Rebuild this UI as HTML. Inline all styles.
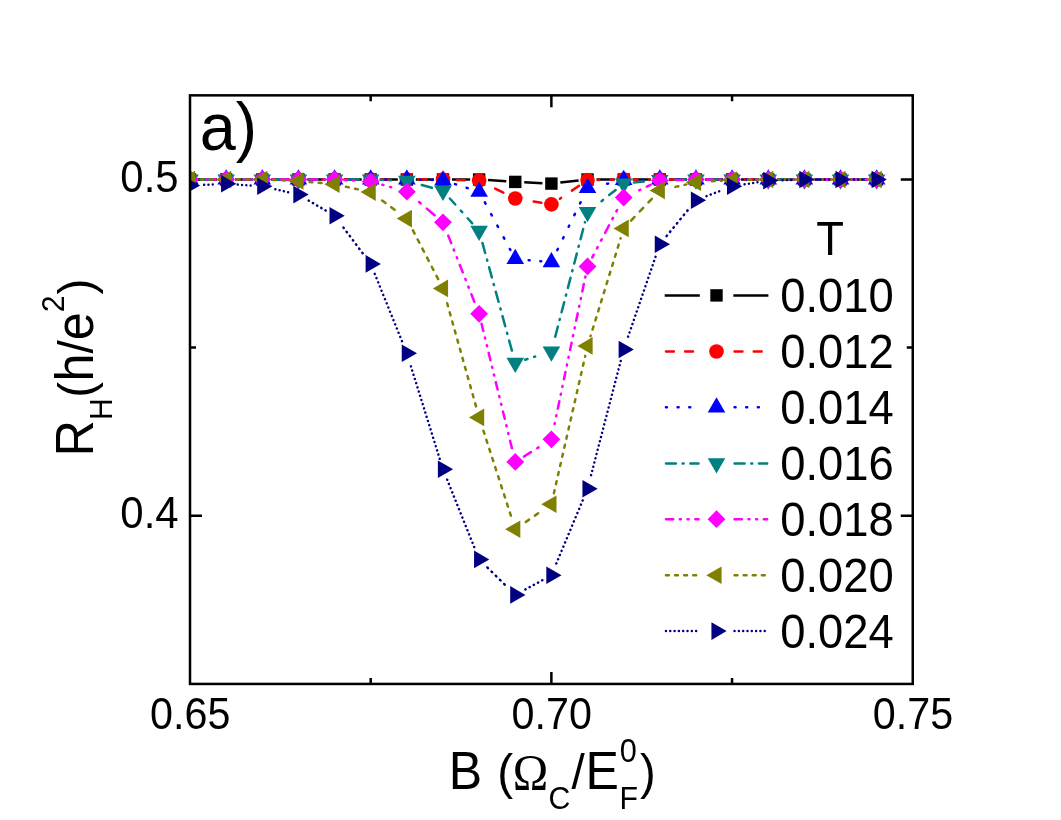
<!DOCTYPE html>
<html><head><meta charset="utf-8"><title>chart</title>
<style>
html,body{margin:0;padding:0;background:#fff;}
body{width:1061px;height:820px;overflow:hidden;}
svg{display:block;will-change:transform;transform:translateZ(0);}
text{font-family:"Liberation Sans",sans-serif;fill:#000;}
.ser{font-family:"Liberation Serif",serif;}
</style></head><body>
<svg width="1061" height="820" viewBox="0 0 1061 820">
<defs><clipPath id="pc"><rect x="190" y="95.35" width="722.75" height="588.6"/></clipPath></defs>
<rect width="1061" height="820" fill="#fff"/>
<path d="M551.37 683.95 v-12 M551.37 95.35 v12 M370.69 683.95 v-6 M370.69 95.35 v6 M732.06 683.95 v-6 M732.06 95.35 v6 M190 179.55 h12 M912.75 179.55 h-12 M190 515.70 h12 M912.75 515.70 h-12 M190 347.62 h6 M912.75 347.62 h-6" stroke="#000" stroke-width="2.5" fill="none"/>
<g clip-path="url(#pc)">
<g stroke="#000000" stroke-width="2.5" fill="none">
<line x1="199.00" y1="179.50" x2="217.14" y2="179.50"/>
<line x1="235.14" y1="179.50" x2="253.28" y2="179.50"/>
<line x1="271.28" y1="179.50" x2="289.42" y2="179.50"/>
<line x1="307.42" y1="179.50" x2="325.56" y2="179.50"/>
<line x1="343.56" y1="179.50" x2="361.70" y2="179.50"/>
<line x1="379.70" y1="179.50" x2="397.84" y2="179.50"/>
<line x1="415.84" y1="179.50" x2="433.98" y2="179.50"/>
<line x1="451.98" y1="179.50" x2="470.12" y2="179.50"/>
<line x1="488.10" y1="180.10" x2="506.28" y2="181.30"/>
<line x1="524.25" y1="182.32" x2="542.41" y2="183.18"/>
<line x1="560.34" y1="182.59" x2="578.60" y2="180.51"/>
<line x1="596.54" y1="179.50" x2="614.68" y2="179.50"/>
<line x1="632.68" y1="179.50" x2="650.82" y2="179.50"/>
<line x1="668.82" y1="179.50" x2="686.96" y2="179.50"/>
<line x1="704.96" y1="179.50" x2="723.10" y2="179.50"/>
<line x1="741.10" y1="179.50" x2="759.24" y2="179.50"/>
<line x1="777.24" y1="179.50" x2="795.38" y2="179.50"/>
<line x1="813.38" y1="179.50" x2="831.52" y2="179.50"/>
<line x1="849.52" y1="179.50" x2="867.66" y2="179.50"/>
</g>
<g>
<rect x="183.80" y="173.30" width="12.4" height="12.4" fill="#000000"/>
<rect x="219.94" y="173.30" width="12.4" height="12.4" fill="#000000"/>
<rect x="256.08" y="173.30" width="12.4" height="12.4" fill="#000000"/>
<rect x="292.22" y="173.30" width="12.4" height="12.4" fill="#000000"/>
<rect x="328.36" y="173.30" width="12.4" height="12.4" fill="#000000"/>
<rect x="364.50" y="173.30" width="12.4" height="12.4" fill="#000000"/>
<rect x="400.64" y="173.30" width="12.4" height="12.4" fill="#000000"/>
<rect x="436.78" y="173.30" width="12.4" height="12.4" fill="#000000"/>
<rect x="472.92" y="173.30" width="12.4" height="12.4" fill="#000000"/>
<rect x="509.06" y="175.70" width="12.4" height="12.4" fill="#000000"/>
<rect x="545.20" y="177.40" width="12.4" height="12.4" fill="#000000"/>
<rect x="581.34" y="173.30" width="12.4" height="12.4" fill="#000000"/>
<rect x="617.48" y="173.30" width="12.4" height="12.4" fill="#000000"/>
<rect x="653.62" y="173.30" width="12.4" height="12.4" fill="#000000"/>
<rect x="689.76" y="173.30" width="12.4" height="12.4" fill="#000000"/>
<rect x="725.90" y="173.30" width="12.4" height="12.4" fill="#000000"/>
<rect x="762.04" y="173.30" width="12.4" height="12.4" fill="#000000"/>
<rect x="798.18" y="173.30" width="12.4" height="12.4" fill="#000000"/>
<rect x="834.32" y="173.30" width="12.4" height="12.4" fill="#000000"/>
<rect x="870.46" y="173.30" width="12.4" height="12.4" fill="#000000"/>
</g>
<g stroke="#ff0000" stroke-width="2.5" fill="none" stroke-linecap="round">
<line x1="200.25" y1="179.50" x2="215.89" y2="179.50" stroke-dasharray="7.90 11.30" stroke-dashoffset="12.14"/>
<line x1="236.39" y1="179.50" x2="252.03" y2="179.50" stroke-dasharray="7.90 11.30" stroke-dashoffset="9.88"/>
<line x1="272.53" y1="179.50" x2="288.17" y2="179.50" stroke-dasharray="7.90 11.30" stroke-dashoffset="26.82"/>
<line x1="308.67" y1="179.50" x2="324.31" y2="179.50" stroke-dasharray="7.90 11.30" stroke-dashoffset="24.56"/>
<line x1="344.81" y1="179.50" x2="360.45" y2="179.50" stroke-dasharray="7.90 11.30" stroke-dashoffset="22.30"/>
<line x1="380.95" y1="179.50" x2="396.59" y2="179.50" stroke-dasharray="7.90 11.30" stroke-dashoffset="20.04"/>
<line x1="417.09" y1="179.50" x2="432.73" y2="179.50" stroke-dasharray="7.90 11.30" stroke-dashoffset="17.78"/>
<line x1="453.23" y1="179.81" x2="468.87" y2="180.29" stroke-dasharray="7.90 11.30" stroke-dashoffset="15.52"/>
<line x1="488.31" y1="185.15" x2="506.07" y2="193.95" stroke-dasharray="9.11 12.32" stroke-dashoffset="13.75"/>
<line x1="525.38" y1="200.15" x2="541.28" y2="202.75" stroke-dasharray="8.04 11.42" stroke-dashoffset="11.03"/>
<line x1="559.91" y1="198.68" x2="579.03" y2="185.82" stroke-dasharray="10.03 13.10" stroke-dashoffset="31.82"/>
<line x1="597.79" y1="179.93" x2="613.43" y2="179.67" stroke-dasharray="7.90 11.30" stroke-dashoffset="25.68"/>
<line x1="633.93" y1="179.50" x2="649.57" y2="179.50" stroke-dasharray="7.90 11.30" stroke-dashoffset="23.42"/>
<line x1="670.07" y1="179.50" x2="685.71" y2="179.50" stroke-dasharray="7.90 11.30" stroke-dashoffset="21.16"/>
<line x1="706.21" y1="179.50" x2="721.85" y2="179.50" stroke-dasharray="7.90 11.30" stroke-dashoffset="18.90"/>
<line x1="742.35" y1="179.50" x2="757.99" y2="179.50" stroke-dasharray="7.90 11.30" stroke-dashoffset="16.64"/>
<line x1="778.49" y1="179.50" x2="794.13" y2="179.50" stroke-dasharray="7.90 11.30" stroke-dashoffset="14.38"/>
<line x1="814.63" y1="179.50" x2="830.27" y2="179.50" stroke-dasharray="7.90 11.30" stroke-dashoffset="12.12"/>
<line x1="850.77" y1="179.50" x2="866.41" y2="179.50" stroke-dasharray="7.90 11.30" stroke-dashoffset="9.86"/>
</g>
<g>
<circle cx="190.00" cy="179.50" r="7.3" fill="#ff0000"/>
<circle cx="226.14" cy="179.50" r="7.3" fill="#ff0000"/>
<circle cx="262.28" cy="179.50" r="7.3" fill="#ff0000"/>
<circle cx="298.42" cy="179.50" r="7.3" fill="#ff0000"/>
<circle cx="334.56" cy="179.50" r="7.3" fill="#ff0000"/>
<circle cx="370.70" cy="179.50" r="7.3" fill="#ff0000"/>
<circle cx="406.84" cy="179.50" r="7.3" fill="#ff0000"/>
<circle cx="442.98" cy="179.50" r="7.3" fill="#ff0000"/>
<circle cx="479.12" cy="180.60" r="7.3" fill="#ff0000"/>
<circle cx="515.26" cy="198.50" r="7.3" fill="#ff0000"/>
<circle cx="551.40" cy="204.40" r="7.3" fill="#ff0000"/>
<circle cx="587.54" cy="180.10" r="7.3" fill="#ff0000"/>
<circle cx="623.68" cy="179.50" r="7.3" fill="#ff0000"/>
<circle cx="659.82" cy="179.50" r="7.3" fill="#ff0000"/>
<circle cx="695.96" cy="179.50" r="7.3" fill="#ff0000"/>
<circle cx="732.10" cy="179.50" r="7.3" fill="#ff0000"/>
<circle cx="768.24" cy="179.50" r="7.3" fill="#ff0000"/>
<circle cx="804.38" cy="179.50" r="7.3" fill="#ff0000"/>
<circle cx="840.52" cy="179.50" r="7.3" fill="#ff0000"/>
<circle cx="876.66" cy="179.50" r="7.3" fill="#ff0000"/>
</g>
<g stroke="#0000ff" stroke-width="2.5" fill="none" stroke-linecap="round">
<line x1="200.25" y1="179.50" x2="215.89" y2="179.50" stroke-dasharray="1.00 10.65" stroke-dashoffset="13.20"/>
<line x1="236.39" y1="179.50" x2="252.03" y2="179.50" stroke-dasharray="1.00 10.65" stroke-dashoffset="14.39"/>
<line x1="272.53" y1="179.50" x2="288.17" y2="179.50" stroke-dasharray="1.00 10.65" stroke-dashoffset="15.58"/>
<line x1="308.67" y1="179.50" x2="324.31" y2="179.50" stroke-dasharray="1.00 10.65" stroke-dashoffset="16.77"/>
<line x1="344.81" y1="179.50" x2="360.45" y2="179.50" stroke-dasharray="1.00 10.65" stroke-dashoffset="17.96"/>
<line x1="380.95" y1="179.50" x2="396.59" y2="179.50" stroke-dasharray="1.00 10.65" stroke-dashoffset="19.15"/>
<line x1="417.09" y1="179.73" x2="432.73" y2="180.07" stroke-dasharray="1.00 10.65" stroke-dashoffset="20.34"/>
<line x1="452.76" y1="183.38" x2="469.34" y2="188.62" stroke-dasharray="1.17 11.05" stroke-dashoffset="9.92"/>
<line x1="483.97" y1="200.73" x2="510.41" y2="249.97" stroke-dasharray="1.47 11.75" stroke-dashoffset="11.35"/>
<line x1="525.47" y1="259.90" x2="541.19" y2="261.30" stroke-dasharray="1.01 10.68" stroke-dashoffset="20.16"/>
<line x1="555.89" y1="252.98" x2="583.05" y2="197.22" stroke-dasharray="1.39 11.57" stroke-dashoffset="9.73"/>
<line x1="597.55" y1="185.78" x2="613.67" y2="182.22" stroke-dasharray="1.08 10.85" stroke-dashoffset="14.08"/>
<line x1="633.93" y1="179.86" x2="649.57" y2="179.64" stroke-dasharray="1.00 10.65" stroke-dashoffset="15.15"/>
<line x1="670.07" y1="179.50" x2="685.71" y2="179.50" stroke-dasharray="1.00 10.65" stroke-dashoffset="16.34"/>
<line x1="706.21" y1="179.50" x2="721.85" y2="179.50" stroke-dasharray="1.00 10.65" stroke-dashoffset="17.53"/>
<line x1="742.35" y1="179.50" x2="757.99" y2="179.50" stroke-dasharray="1.00 10.65" stroke-dashoffset="18.72"/>
<line x1="778.49" y1="179.50" x2="794.13" y2="179.50" stroke-dasharray="1.00 10.65" stroke-dashoffset="19.91"/>
<line x1="814.63" y1="179.50" x2="830.27" y2="179.50" stroke-dasharray="1.00 10.65" stroke-dashoffset="9.45"/>
<line x1="850.77" y1="179.50" x2="866.41" y2="179.50" stroke-dasharray="1.00 10.65" stroke-dashoffset="10.64"/>
</g>
<g>
<polygon points="190.00,169.34 181.20,184.58 198.80,184.58" fill="#0000ff"/>
<polygon points="226.14,169.34 217.34,184.58 234.94,184.58" fill="#0000ff"/>
<polygon points="262.28,169.34 253.48,184.58 271.08,184.58" fill="#0000ff"/>
<polygon points="298.42,169.34 289.62,184.58 307.22,184.58" fill="#0000ff"/>
<polygon points="334.56,169.34 325.76,184.58 343.36,184.58" fill="#0000ff"/>
<polygon points="370.70,169.34 361.90,184.58 379.50,184.58" fill="#0000ff"/>
<polygon points="406.84,169.34 398.04,184.58 415.64,184.58" fill="#0000ff"/>
<polygon points="442.98,170.14 434.18,185.38 451.78,185.38" fill="#0000ff"/>
<polygon points="479.12,181.54 470.32,196.78 487.92,196.78" fill="#0000ff"/>
<polygon points="515.26,248.84 506.46,264.08 524.06,264.08" fill="#0000ff"/>
<polygon points="551.40,252.04 542.60,267.28 560.20,267.28" fill="#0000ff"/>
<polygon points="587.54,177.84 578.74,193.08 596.34,193.08" fill="#0000ff"/>
<polygon points="623.68,169.84 614.88,185.08 632.48,185.08" fill="#0000ff"/>
<polygon points="659.82,169.34 651.02,184.58 668.62,184.58" fill="#0000ff"/>
<polygon points="695.96,169.34 687.16,184.58 704.76,184.58" fill="#0000ff"/>
<polygon points="732.10,169.34 723.30,184.58 740.90,184.58" fill="#0000ff"/>
<polygon points="768.24,169.34 759.44,184.58 777.04,184.58" fill="#0000ff"/>
<polygon points="804.38,169.34 795.58,184.58 813.18,184.58" fill="#0000ff"/>
<polygon points="840.52,169.34 831.72,184.58 849.32,184.58" fill="#0000ff"/>
<polygon points="876.66,169.34 867.86,184.58 885.46,184.58" fill="#0000ff"/>
</g>
<g stroke="#008080" stroke-width="2.5" fill="none" stroke-linecap="round">
<line x1="200.25" y1="179.50" x2="215.89" y2="179.50" stroke-dasharray="10.00 6.70 1.00 6.70" stroke-dashoffset="22.40"/>
<line x1="236.39" y1="179.50" x2="252.03" y2="179.50" stroke-dasharray="10.00 6.70 1.00 6.70" stroke-dashoffset="9.74"/>
<line x1="272.53" y1="179.50" x2="288.17" y2="179.50" stroke-dasharray="10.00 6.70 1.00 6.70" stroke-dashoffset="21.48"/>
<line x1="308.67" y1="179.50" x2="324.31" y2="179.50" stroke-dasharray="10.00 6.70 1.00 6.70" stroke-dashoffset="33.22"/>
<line x1="344.81" y1="179.50" x2="360.45" y2="179.50" stroke-dasharray="10.00 6.70 1.00 6.70" stroke-dashoffset="20.56"/>
<line x1="380.94" y1="179.87" x2="396.60" y2="180.43" stroke-dasharray="10.01 6.70 1.00 6.70" stroke-dashoffset="32.32"/>
<line x1="416.71" y1="183.56" x2="433.11" y2="188.14" stroke-dasharray="10.48 6.86 1.13 6.86" stroke-dashoffset="20.05"/>
<line x1="449.85" y1="198.51" x2="472.25" y2="223.29" stroke-dasharray="14.35 8.16 2.22 8.16" stroke-dashoffset="39.16"/>
<line x1="481.83" y1="240.79" x2="512.55" y2="352.91" stroke-dasharray="10.46 6.85 1.13 6.85" stroke-dashoffset="23.08"/>
<line x1="525.04" y1="359.74" x2="541.62" y2="354.56" stroke-dasharray="10.60 6.90 1.17 6.90" stroke-dashoffset="33.60"/>
<line x1="553.97" y1="341.58" x2="584.97" y2="222.12" stroke-dasharray="10.41 6.84 1.12 6.84" stroke-dashoffset="20.18"/>
<line x1="595.58" y1="205.84" x2="615.64" y2="189.96" stroke-dasharray="13.44 7.86 1.96 7.86" stroke-dashoffset="13.74"/>
<line x1="633.88" y1="182.58" x2="649.62" y2="181.02" stroke-dasharray="10.06 6.72 1.02 6.72" stroke-dashoffset="24.54"/>
<line x1="670.07" y1="179.86" x2="685.71" y2="179.64" stroke-dasharray="10.00 6.70 1.00 6.70" stroke-dashoffset="11.80"/>
<line x1="706.21" y1="179.50" x2="721.85" y2="179.50" stroke-dasharray="10.00 6.70 1.00 6.70" stroke-dashoffset="23.54"/>
<line x1="742.35" y1="179.50" x2="757.99" y2="179.50" stroke-dasharray="10.00 6.70 1.00 6.70" stroke-dashoffset="10.88"/>
<line x1="778.49" y1="179.50" x2="794.13" y2="179.50" stroke-dasharray="10.00 6.70 1.00 6.70" stroke-dashoffset="22.62"/>
<line x1="814.63" y1="179.50" x2="830.27" y2="179.50" stroke-dasharray="10.00 6.70 1.00 6.70" stroke-dashoffset="9.96"/>
<line x1="850.77" y1="179.50" x2="866.41" y2="179.50" stroke-dasharray="10.00 6.70 1.00 6.70" stroke-dashoffset="21.70"/>
</g>
<g>
<polygon points="190.00,189.66 181.20,174.42 198.80,174.42" fill="#008080"/>
<polygon points="226.14,189.66 217.34,174.42 234.94,174.42" fill="#008080"/>
<polygon points="262.28,189.66 253.48,174.42 271.08,174.42" fill="#008080"/>
<polygon points="298.42,189.66 289.62,174.42 307.22,174.42" fill="#008080"/>
<polygon points="334.56,189.66 325.76,174.42 343.36,174.42" fill="#008080"/>
<polygon points="370.70,189.66 361.90,174.42 379.50,174.42" fill="#008080"/>
<polygon points="406.84,190.96 398.04,175.72 415.64,175.72" fill="#008080"/>
<polygon points="442.98,201.06 434.18,185.82 451.78,185.82" fill="#008080"/>
<polygon points="479.12,241.06 470.32,225.82 487.92,225.82" fill="#008080"/>
<polygon points="515.26,372.96 506.46,357.72 524.06,357.72" fill="#008080"/>
<polygon points="551.40,361.66 542.60,346.42 560.20,346.42" fill="#008080"/>
<polygon points="587.54,222.36 578.74,207.12 596.34,207.12" fill="#008080"/>
<polygon points="623.68,193.76 614.88,178.52 632.48,178.52" fill="#008080"/>
<polygon points="659.82,190.16 651.02,174.92 668.62,174.92" fill="#008080"/>
<polygon points="695.96,189.66 687.16,174.42 704.76,174.42" fill="#008080"/>
<polygon points="732.10,189.66 723.30,174.42 740.90,174.42" fill="#008080"/>
<polygon points="768.24,189.66 759.44,174.42 777.04,174.42" fill="#008080"/>
<polygon points="804.38,189.66 795.58,174.42 813.18,174.42" fill="#008080"/>
<polygon points="840.52,189.66 831.72,174.42 849.32,174.42" fill="#008080"/>
<polygon points="876.66,189.66 867.86,174.42 885.46,174.42" fill="#008080"/>
</g>
<g stroke="#ff00ff" stroke-width="2.5" fill="none" stroke-linecap="round">
<line x1="200.25" y1="179.50" x2="215.89" y2="179.50" stroke-dasharray="7.30 6.60 1.00 6.70 1.00 6.70" stroke-dashoffset="36.86"/>
<line x1="236.39" y1="179.50" x2="252.03" y2="179.50" stroke-dasharray="7.30 6.60 1.00 6.70 1.00 6.70" stroke-dashoffset="14.40"/>
<line x1="272.53" y1="179.50" x2="288.17" y2="179.50" stroke-dasharray="7.30 6.60 1.00 6.70 1.00 6.70" stroke-dashoffset="21.24"/>
<line x1="308.67" y1="179.50" x2="324.31" y2="179.50" stroke-dasharray="7.30 6.60 1.00 6.70 1.00 6.70" stroke-dashoffset="28.08"/>
<line x1="344.80" y1="180.04" x2="360.46" y2="180.86" stroke-dasharray="7.31 6.61 1.00 6.71 1.00 6.71" stroke-dashoffset="34.96"/>
<line x1="380.56" y1="184.21" x2="396.98" y2="188.89" stroke-dasharray="7.69 6.76 1.14 6.87 1.14 6.87" stroke-dashoffset="12.60"/>
<line x1="414.66" y1="198.32" x2="435.16" y2="215.68" stroke-dasharray="10.34 7.87 2.09 8.00 2.09 8.00" stroke-dashoffset="22.50"/>
<line x1="446.75" y1="231.83" x2="475.35" y2="304.27" stroke-dasharray="8.04 6.91 1.26 7.02 1.26 7.02" stroke-dashoffset="27.43"/>
<line x1="481.55" y1="323.76" x2="512.83" y2="451.94" stroke-dasharray="7.59 6.72 1.10 6.82 1.10 6.82" stroke-dashoffset="30.35"/>
<line x1="523.95" y1="456.47" x2="542.71" y2="444.73" stroke-dasharray="9.06 7.34 1.63 7.45 1.63 7.45" stroke-dashoffset="35.35"/>
<line x1="553.50" y1="429.27" x2="585.44" y2="276.43" stroke-dasharray="7.51 6.69 1.08 6.79 1.08 6.79" stroke-dashoffset="38.81"/>
<line x1="592.30" y1="257.32" x2="618.92" y2="206.58" stroke-dasharray="8.57 7.13 1.45 7.24 1.45 7.24" stroke-dashoffset="38.68"/>
<line x1="632.96" y1="193.16" x2="650.54" y2="184.94" stroke-dasharray="8.32 7.03 1.36 7.14 1.36 7.14" stroke-dashoffset="17.04"/>
<line x1="670.07" y1="180.29" x2="685.71" y2="179.81" stroke-dasharray="7.30 6.60 1.00 6.70 1.00 6.70" stroke-dashoffset="23.13"/>
<line x1="706.21" y1="179.50" x2="721.85" y2="179.50" stroke-dasharray="7.30 6.60 1.00 6.70 1.00 6.70" stroke-dashoffset="29.96"/>
<line x1="742.35" y1="179.50" x2="757.99" y2="179.50" stroke-dasharray="7.30 6.60 1.00 6.70 1.00 6.70" stroke-dashoffset="36.80"/>
<line x1="778.49" y1="179.50" x2="794.13" y2="179.50" stroke-dasharray="7.30 6.60 1.00 6.70 1.00 6.70" stroke-dashoffset="14.34"/>
<line x1="814.63" y1="179.50" x2="830.27" y2="179.50" stroke-dasharray="7.30 6.60 1.00 6.70 1.00 6.70" stroke-dashoffset="21.18"/>
<line x1="850.77" y1="179.50" x2="866.41" y2="179.50" stroke-dasharray="7.30 6.60 1.00 6.70 1.00 6.70" stroke-dashoffset="28.02"/>
</g>
<g>
<polygon points="181.10,179.50 190.00,170.60 198.90,179.50 190.00,188.40" fill="#ff00ff"/>
<polygon points="217.24,179.50 226.14,170.60 235.04,179.50 226.14,188.40" fill="#ff00ff"/>
<polygon points="253.38,179.50 262.28,170.60 271.18,179.50 262.28,188.40" fill="#ff00ff"/>
<polygon points="289.52,179.50 298.42,170.60 307.32,179.50 298.42,188.40" fill="#ff00ff"/>
<polygon points="325.66,179.50 334.56,170.60 343.46,179.50 334.56,188.40" fill="#ff00ff"/>
<polygon points="361.80,181.40 370.70,172.50 379.60,181.40 370.70,190.30" fill="#ff00ff"/>
<polygon points="397.94,191.70 406.84,182.80 415.74,191.70 406.84,200.60" fill="#ff00ff"/>
<polygon points="434.08,222.30 442.98,213.40 451.88,222.30 442.98,231.20" fill="#ff00ff"/>
<polygon points="470.22,313.80 479.12,304.90 488.02,313.80 479.12,322.70" fill="#ff00ff"/>
<polygon points="506.36,461.90 515.26,453.00 524.16,461.90 515.26,470.80" fill="#ff00ff"/>
<polygon points="542.50,439.30 551.40,430.40 560.30,439.30 551.40,448.20" fill="#ff00ff"/>
<polygon points="578.64,266.40 587.54,257.50 596.44,266.40 587.54,275.30" fill="#ff00ff"/>
<polygon points="614.78,197.50 623.68,188.60 632.58,197.50 623.68,206.40" fill="#ff00ff"/>
<polygon points="650.92,180.60 659.82,171.70 668.72,180.60 659.82,189.50" fill="#ff00ff"/>
<polygon points="687.06,179.50 695.96,170.60 704.86,179.50 695.96,188.40" fill="#ff00ff"/>
<polygon points="723.20,179.50 732.10,170.60 741.00,179.50 732.10,188.40" fill="#ff00ff"/>
<polygon points="759.34,179.50 768.24,170.60 777.14,179.50 768.24,188.40" fill="#ff00ff"/>
<polygon points="795.48,179.50 804.38,170.60 813.28,179.50 804.38,188.40" fill="#ff00ff"/>
<polygon points="831.62,179.50 840.52,170.60 849.42,179.50 840.52,188.40" fill="#ff00ff"/>
<polygon points="867.76,179.50 876.66,170.60 885.56,179.50 876.66,188.40" fill="#ff00ff"/>
</g>
<g stroke="#808000" stroke-width="2.5" fill="none" stroke-linecap="round">
<line x1="200.25" y1="179.50" x2="215.89" y2="179.50" stroke-dasharray="2.90 6.20" stroke-dashoffset="9.00"/>
<line x1="236.39" y1="179.50" x2="252.03" y2="179.50" stroke-dasharray="2.90 6.20" stroke-dashoffset="17.84"/>
<line x1="272.52" y1="179.93" x2="288.18" y2="180.57" stroke-dasharray="2.90 6.20" stroke-dashoffset="17.59"/>
<line x1="308.63" y1="181.93" x2="324.35" y2="183.37" stroke-dasharray="2.92 6.22" stroke-dashoffset="17.35"/>
<line x1="344.58" y1="186.46" x2="360.68" y2="189.94" stroke-dasharray="3.02 6.29" stroke-dashoffset="17.25"/>
<line x1="378.97" y1="198.16" x2="398.57" y2="212.54" stroke-dasharray="4.20 7.09" stroke-dashoffset="18.67"/>
<line x1="411.55" y1="227.70" x2="438.27" y2="279.30" stroke-dasharray="3.58 6.67" stroke-dashoffset="17.49"/>
<line x1="445.75" y1="298.27" x2="476.35" y2="407.53" stroke-dasharray="3.11 6.34" stroke-dashoffset="13.71"/>
<line x1="482.27" y1="427.15" x2="512.11" y2="519.45" stroke-dasharray="3.18 6.39" stroke-dashoffset="15.45"/>
<line x1="523.69" y1="523.37" x2="542.97" y2="510.03" stroke-dasharray="4.07 7.00" stroke-dashoffset="19.63"/>
<line x1="553.68" y1="494.21" x2="585.26" y2="355.89" stroke-dasharray="3.04 6.30" stroke-dashoffset="17.70"/>
<line x1="590.55" y1="336.10" x2="620.67" y2="238.20" stroke-dasharray="3.15 6.37" stroke-dashoffset="12.12"/>
<line x1="630.74" y1="220.97" x2="652.76" y2="197.83" stroke-dasharray="4.95 7.61" stroke-dashoffset="12.01"/>
<line x1="669.82" y1="188.16" x2="685.96" y2="184.54" stroke-dasharray="3.03 6.29" stroke-dashoffset="12.87"/>
<line x1="706.19" y1="181.65" x2="721.87" y2="180.65" stroke-dasharray="2.91 6.21" stroke-dashoffset="12.53"/>
<line x1="742.35" y1="179.86" x2="757.99" y2="179.64" stroke-dasharray="2.90 6.20" stroke-dashoffset="12.26"/>
<line x1="778.49" y1="179.50" x2="794.13" y2="179.50" stroke-dasharray="2.90 6.20" stroke-dashoffset="12.00"/>
<line x1="814.63" y1="179.50" x2="830.27" y2="179.50" stroke-dasharray="2.90 6.20" stroke-dashoffset="11.74"/>
<line x1="850.77" y1="179.50" x2="866.41" y2="179.50" stroke-dasharray="2.90 6.20" stroke-dashoffset="11.48"/>
</g>
<g>
<polygon points="179.84,179.50 195.08,170.70 195.08,188.30" fill="#808000"/>
<polygon points="215.98,179.50 231.22,170.70 231.22,188.30" fill="#808000"/>
<polygon points="252.12,179.50 267.36,170.70 267.36,188.30" fill="#808000"/>
<polygon points="288.26,181.00 303.50,172.20 303.50,189.80" fill="#808000"/>
<polygon points="324.40,184.30 339.64,175.50 339.64,193.10" fill="#808000"/>
<polygon points="360.54,192.10 375.78,183.30 375.78,200.90" fill="#808000"/>
<polygon points="396.68,218.60 411.92,209.80 411.92,227.40" fill="#808000"/>
<polygon points="432.82,288.40 448.06,279.60 448.06,297.20" fill="#808000"/>
<polygon points="468.96,417.40 484.20,408.60 484.20,426.20" fill="#808000"/>
<polygon points="505.10,529.20 520.34,520.40 520.34,538.00" fill="#808000"/>
<polygon points="541.24,504.20 556.48,495.40 556.48,513.00" fill="#808000"/>
<polygon points="577.38,345.90 592.62,337.10 592.62,354.70" fill="#808000"/>
<polygon points="613.52,228.40 628.76,219.60 628.76,237.20" fill="#808000"/>
<polygon points="649.66,190.40 664.90,181.60 664.90,199.20" fill="#808000"/>
<polygon points="685.80,182.30 701.04,173.50 701.04,191.10" fill="#808000"/>
<polygon points="721.94,180.00 737.18,171.20 737.18,188.80" fill="#808000"/>
<polygon points="758.08,179.50 773.32,170.70 773.32,188.30" fill="#808000"/>
<polygon points="794.22,179.50 809.46,170.70 809.46,188.30" fill="#808000"/>
<polygon points="830.36,179.50 845.60,170.70 845.60,188.30" fill="#808000"/>
<polygon points="866.50,179.50 881.74,170.70 881.74,188.30" fill="#808000"/>
</g>
<g stroke="#000080" stroke-width="2.5" fill="none" stroke-linecap="round">
<line x1="200.24" y1="185.02" x2="215.90" y2="184.28" stroke-dasharray="0.01 4.30" stroke-dashoffset="9.00"/>
<line x1="236.37" y1="184.51" x2="252.05" y2="185.59" stroke-dasharray="0.01 4.30" stroke-dashoffset="11.55"/>
<line x1="272.27" y1="188.59" x2="288.43" y2="192.31" stroke-dasharray="0.01 4.35" stroke-dashoffset="9.90"/>
<line x1="307.27" y1="199.77" x2="325.71" y2="210.53" stroke-dasharray="0.28 4.58" stroke-dashoffset="12.96"/>
<line x1="340.71" y1="223.90" x2="364.55" y2="255.70" stroke-dasharray="0.50 4.75" stroke-dashoffset="11.20"/>
<line x1="374.55" y1="273.40" x2="402.99" y2="343.70" stroke-dasharray="0.09 4.44" stroke-dashoffset="13.06"/>
<line x1="409.89" y1="362.99" x2="439.93" y2="459.41" stroke-dasharray="0.01 4.39" stroke-dashoffset="9.69"/>
<line x1="446.79" y1="478.71" x2="475.31" y2="549.89" stroke-dasharray="0.09 4.44" stroke-dashoffset="12.51"/>
<line x1="486.43" y1="566.58" x2="507.95" y2="587.72" stroke-dasharray="0.86 5.02" stroke-dashoffset="10.49"/>
<line x1="524.27" y1="590.01" x2="542.39" y2="580.19" stroke-dasharray="0.23 4.55" stroke-dashoffset="13.10"/>
<line x1="555.35" y1="565.84" x2="583.59" y2="498.26" stroke-dasharray="0.10 4.45" stroke-dashoffset="11.10"/>
<line x1="590.11" y1="478.88" x2="621.11" y2="359.42" stroke-dasharray="0.01 4.36" stroke-dashoffset="9.25"/>
<line x1="627.01" y1="339.81" x2="656.49" y2="253.99" stroke-dasharray="0.04 4.40" stroke-dashoffset="9.99"/>
<line x1="666.32" y1="236.37" x2="689.46" y2="208.13" stroke-dasharray="0.60 4.83" stroke-dashoffset="10.47"/>
<line x1="705.53" y1="196.52" x2="722.53" y2="189.98" stroke-dasharray="0.07 4.43" stroke-dashoffset="12.47"/>
<line x1="742.22" y1="184.70" x2="758.12" y2="182.20" stroke-dasharray="0.01 4.32" stroke-dashoffset="10.60"/>
<line x1="778.49" y1="180.29" x2="794.13" y2="179.81" stroke-dasharray="0.01 4.30" stroke-dashoffset="13.12"/>
<line x1="814.63" y1="179.50" x2="830.27" y2="179.50" stroke-dasharray="0.01 4.30" stroke-dashoffset="11.46"/>
<line x1="850.77" y1="179.50" x2="866.41" y2="179.50" stroke-dasharray="0.01 4.30" stroke-dashoffset="9.80"/>
</g>
<g>
<polygon points="200.16,185.50 184.92,176.70 184.92,194.30" fill="#000080"/>
<polygon points="236.30,183.80 221.06,175.00 221.06,192.60" fill="#000080"/>
<polygon points="272.44,186.30 257.20,177.50 257.20,195.10" fill="#000080"/>
<polygon points="308.58,194.60 293.34,185.80 293.34,203.40" fill="#000080"/>
<polygon points="344.72,215.70 329.48,206.90 329.48,224.50" fill="#000080"/>
<polygon points="380.86,263.90 365.62,255.10 365.62,272.70" fill="#000080"/>
<polygon points="417.00,353.20 401.76,344.40 401.76,362.00" fill="#000080"/>
<polygon points="453.14,469.20 437.90,460.40 437.90,478.00" fill="#000080"/>
<polygon points="489.28,559.40 474.04,550.60 474.04,568.20" fill="#000080"/>
<polygon points="525.42,594.90 510.18,586.10 510.18,603.70" fill="#000080"/>
<polygon points="561.56,575.30 546.32,566.50 546.32,584.10" fill="#000080"/>
<polygon points="597.70,488.80 582.46,480.00 582.46,497.60" fill="#000080"/>
<polygon points="633.84,349.50 618.60,340.70 618.60,358.30" fill="#000080"/>
<polygon points="669.98,244.30 654.74,235.50 654.74,253.10" fill="#000080"/>
<polygon points="706.12,200.20 690.88,191.40 690.88,209.00" fill="#000080"/>
<polygon points="742.26,186.30 727.02,177.50 727.02,195.10" fill="#000080"/>
<polygon points="778.40,180.60 763.16,171.80 763.16,189.40" fill="#000080"/>
<polygon points="814.54,179.50 799.30,170.70 799.30,188.30" fill="#000080"/>
<polygon points="850.68,179.50 835.44,170.70 835.44,188.30" fill="#000080"/>
<polygon points="886.82,179.50 871.58,170.70 871.58,188.30" fill="#000080"/>
</g>
</g>
<g stroke="#000000" stroke-width="2.5" fill="none"><line x1="664.7" y1="295.4" x2="699.8" y2="295.4"/><line x1="733.3" y1="295.4" x2="768.4" y2="295.4"/></g>
<rect x="710.30" y="289.20" width="12.4" height="12.4" fill="#000000"/>
<text transform="translate(780.2,312.0) scale(0.93,1)" font-size="48.8" text-anchor="start">0.010</text>
<g stroke="#ff0000" stroke-width="2.5" fill="none" stroke-dasharray="7.90 11.30" stroke-linecap="round"><line x1="665.95" y1="351.5" x2="698.55" y2="351.5"/><line x1="734.55" y1="351.5" x2="767.15" y2="351.5"/></g>
<circle cx="716.50" cy="351.50" r="7.3" fill="#ff0000"/>
<text transform="translate(780.2,368.1) scale(0.93,1)" font-size="48.8" text-anchor="start">0.012</text>
<g stroke="#0000ff" stroke-width="2.5" fill="none" stroke-dasharray="1.00 10.65" stroke-linecap="round"><line x1="665.95" y1="407.3" x2="698.55" y2="407.3"/><line x1="734.55" y1="407.3" x2="767.15" y2="407.3"/></g>
<polygon points="716.50,397.14 707.70,412.38 725.30,412.38" fill="#0000ff"/>
<text transform="translate(780.2,423.9) scale(0.93,1)" font-size="48.8" text-anchor="start">0.014</text>
<g stroke="#008080" stroke-width="2.5" fill="none" stroke-dasharray="10.00 6.70 1.00 6.70" stroke-linecap="round"><line x1="665.95" y1="463.4" x2="698.55" y2="463.4"/><line x1="734.55" y1="463.4" x2="767.15" y2="463.4"/></g>
<polygon points="716.50,473.56 707.70,458.32 725.30,458.32" fill="#008080"/>
<text transform="translate(780.2,480.0) scale(0.93,1)" font-size="48.8" text-anchor="start">0.016</text>
<g stroke="#ff00ff" stroke-width="2.5" fill="none" stroke-dasharray="7.30 6.60 1.00 6.70 1.00 6.70" stroke-linecap="round"><line x1="665.95" y1="519.2" x2="698.55" y2="519.2"/><line x1="734.55" y1="519.2" x2="767.15" y2="519.2"/></g>
<polygon points="707.60,519.20 716.50,510.30 725.40,519.20 716.50,528.10" fill="#ff00ff"/>
<text transform="translate(780.2,535.8) scale(0.93,1)" font-size="48.8" text-anchor="start">0.018</text>
<g stroke="#808000" stroke-width="2.5" fill="none" stroke-dasharray="2.90 6.20" stroke-linecap="round"><line x1="665.95" y1="575.3" x2="698.55" y2="575.3"/><line x1="734.55" y1="575.3" x2="767.15" y2="575.3"/></g>
<polygon points="706.34,575.30 721.58,566.50 721.58,584.10" fill="#808000"/>
<text transform="translate(780.2,591.9) scale(0.93,1)" font-size="48.8" text-anchor="start">0.020</text>
<g stroke="#000080" stroke-width="2.5" fill="none" stroke-dasharray="0.01 4.30" stroke-linecap="round"><line x1="665.95" y1="631.1" x2="698.55" y2="631.1"/><line x1="734.55" y1="631.1" x2="767.15" y2="631.1"/></g>
<polygon points="726.66,631.10 711.42,622.30 711.42,639.90" fill="#000080"/>
<text transform="translate(780.2,647.7) scale(0.93,1)" font-size="48.8" text-anchor="start">0.024</text>
<text transform="translate(830.2,254.8) scale(0.93,1)" font-size="48.8" text-anchor="middle">T</text>
<rect x="190" y="95.35" width="722.75" height="588.6" fill="none" stroke="#000" stroke-width="2.5"/>
<text transform="translate(190.3,728.9) scale(0.918,1)" font-size="45" text-anchor="middle">0.65</text>
<text transform="translate(551.7,728.9) scale(0.918,1)" font-size="45" text-anchor="middle">0.70</text>
<text transform="translate(913.0,728.9) scale(0.918,1)" font-size="45" text-anchor="middle">0.75</text>
<text transform="translate(178.6,192.2) scale(0.932,1)" font-size="45" text-anchor="end">0.5</text>
<text transform="translate(178.6,528.3) scale(0.932,1)" font-size="45" text-anchor="end">0.4</text>
<text transform="translate(199.8,150.3) scale(0.96,1)" font-size="67.5">a<tspan dy="-1" font-size="66.5">)</tspan></text>
<text transform="translate(448.8,788.5) scale(0.945,1)" font-size="53">B <tspan font-size="50.5" dx="1.1">(</tspan><tspan class="ser" font-size="50.5" dx="-0.3">Ω</tspan><tspan font-size="32" dy="20.3" dx="0.3">C</tspan><tspan dy="-20.3" dx="1.2" font-size="50.5">/</tspan><tspan dx="0.9">E</tspan><tspan font-size="32.5" dy="-26.5" dx="0.8">0</tspan><tspan font-size="32" dy="46.8" dx="-18.3">F</tspan><tspan dy="-20.3" dx="2.2" font-size="50">)</tspan></text>
<text transform="translate(92.9,456.5) rotate(-90) scale(0.945,1)" font-size="53.3">R<tspan font-size="32" dy="19.5">H</tspan><tspan dy="-19.5" font-size="50.5" dx="0.5">(</tspan><tspan dx="0.5">h</tspan><tspan font-size="50.5">/</tspan>e<tspan font-size="32" dy="-28.5">2</tspan><tspan dy="28.5" font-size="50.5" dx="0.8">)</tspan></text>
</svg>
</body></html>
